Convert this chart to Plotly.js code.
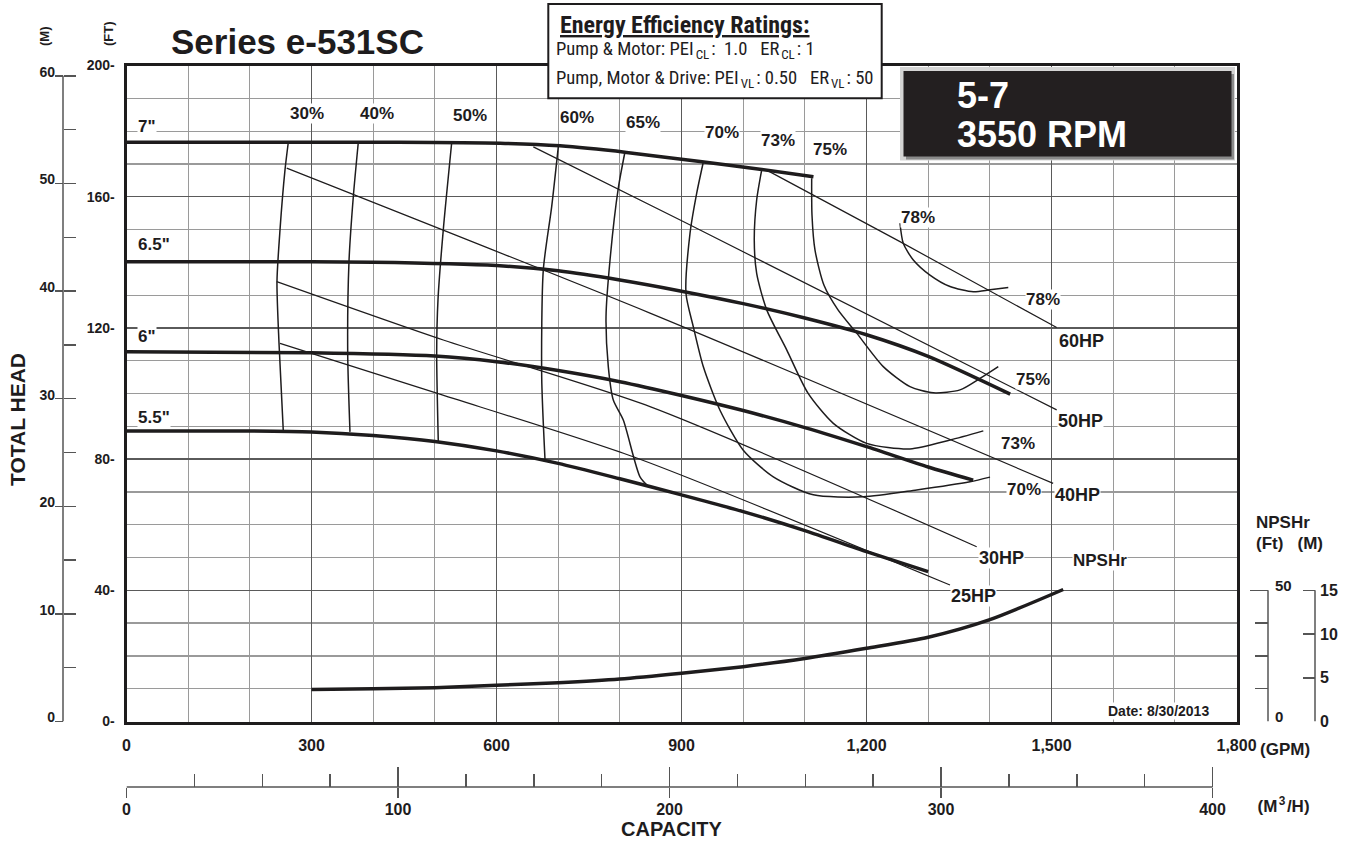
<!DOCTYPE html>
<html><head><meta charset="utf-8">
<script src="https://cdn.plot.ly/plotly-3.0.1.min.js"></script>
<style>html,body{margin:0;padding:0;background:#fff;}#chart{width:1355px;height:843px;}</style>
</head><body><div id="chart"></div>
<script>
// ---------------- data ----------------
const gpmTickVals = [0, 300, 600, 900, 1200, 1500, 1800];
const gpmTickText = ['0', '300', '600', '900', '1,200', '1,500', '1,800'];
const gpmGrid = [100, 200, 400, 500, 700, 800, 1000, 1100, 1300, 1400, 1600, 1700];
const ftTickVals = [0, 40, 80, 120, 160, 200];
const ftTickText = ['0-', '40-', '80-', '120-', '160-', '200-'];
const ftGrid = [10, 20, 30, 50, 60, 70, 90, 100, 110, 130, 140, 150, 170, 180, 190];
const mTickVals = [0, 10, 20, 30, 40, 50, 60];
const mMinor = [5, 15, 25, 35, 45, 55];
const m3hTickVals = [0, 100, 200, 300, 400];
const m3hMinor = [25, 50, 75, 125, 150, 175, 225, 250, 275, 325, 350, 375];
const npshFtTickVals = [0, 50];
const npshFtMinor = [12.5, 25, 37.5];
const npshMTickVals = [0, 5, 10, 15];

// impeller head curves (GPM, ft)
const impellerNames = ['7"', '6.5"', '6"', '5.5"'];
const q7 = [0, 440, 606, 703, 811, 930, 1027, 1114];
const h7 = [176.6, 176.6, 176.3, 175.5, 173.5, 170.7, 168.4, 166.1];
const q65 = [0, 200, 400, 600, 700, 800, 900, 1000, 1100, 1200, 1300, 1433];
const h65 = [140.2, 140.2, 140.0, 139.0, 137.4, 134.6, 131.2, 127.4, 123.0, 117.9, 111.3, 99.8];
const q6 = [0, 300, 500, 600, 700, 800, 900, 1000, 1100, 1200, 1300, 1373];
const h6 = [112.7, 112.4, 111.4, 109.7, 107.0, 103.6, 99.4, 94.8, 89.6, 83.8, 77.6, 73.6];
const q55 = [0, 200, 300, 400, 500, 600, 700, 800, 900, 1000, 1100, 1200, 1300];
const h55 = [88.6, 88.6, 88.3, 87.2, 85.4, 82.5, 78.7, 74.0, 69.1, 64.0, 58.2, 51.8, 45.7];

// efficiency curves
const effNames = ['30%', '40%', '50%', '60%', '65%', '70%', '73%', '75%', '78%'];
const e30q = [262.4, 257.0, 248.9, 244.0, 247.3, 254.3];
const e30h = [176.6, 168.1, 149.8, 134.0, 115.4, 88.4];
const e40q = [375.9, 367.8, 360.8, 358.7, 362.4];
const e40h = [176.6, 160.0, 140.2, 112.3, 88.3];
const e50q = [527.4, 513.7, 505.1, 503.0, 505.6];
const e50h = [176.6, 149.9, 128.5, 112.3, 85.3];
const e60q = [700.2, 689.5, 675.9, 673.3, 678.7];
const e60h = [175.2, 157.0, 137.7, 105.1, 79.7];
const e65q = [808.4, 797.5, 784.1, 777.6, 781.3, 789.4, 805.6, 832.7, 847.3];
const e65h = [173.7, 162.6, 140.7, 123.4, 108.2, 98.0, 91.9, 74.6, 71.5];
const e70q = [935.3, 924.6, 913.8, 907.3, 919.1, 935.3, 962.4, 1000.2, 1048.9, 1113.7, 1194.8, 1281.4, 1367.8, 1400.3];
const e70h = [170.5, 161.0, 148.8, 130.5, 120.4, 108.2, 94.9, 82.7, 74.6, 69.1, 68.5, 70.6, 73.1, 74.5];
const e73q = [1030.0, 1021.9, 1018.0, 1021.9, 1038.2, 1070.6, 1105.1, 1146.2, 1200.3, 1270.5, 1335.4, 1389.4];
const e73h = [168.1, 159.0, 146.8, 136.6, 125.5, 113.3, 100.1, 90.9, 84.8, 83.1, 85.8, 88.6];
const e75q = [1111.1, 1111.6, 1116.5, 1131.1, 1153.8, 1184.1, 1227.2, 1270.5, 1308.3, 1351.6, 1384.0, 1413.7];
const e75h = [165.6, 154.4, 143.7, 133.0, 125.5, 118.4, 108.2, 102.1, 100.2, 101.1, 104.6, 108.2];
const e78q = [1254.3, 1259.6, 1275.9, 1302.9, 1335.4, 1373.2, 1400.3, 1429.9];
const e78h = [151.9, 145.8, 140.7, 136.1, 132.6, 131.0, 131.6, 132.3];

// horsepower lines
const hpNames = ['60HP', '50HP', '40HP', '30HP', '25HP'];
const hp60q = [1038.2, 1254.3, 1508.4];
const hp60h = [168.1, 146.3, 120.1];
const hp50q = [659.7, 908.4, 1508.4];
const hp50h = [175.2, 151.9, 95.0];
const hp40q = [259.8, 848.9, 1502.7];
const hp40h = [168.7, 124.5, 72.6];
const hp30q = [243.6, 513.7, 848.9, 1378.7];
const hp30h = [134.1, 116.3, 96.0, 53.3];
const hp25q = [248.9, 503.0, 821.8, 1335.4];
const hp25h = [115.3, 100.1, 80.7, 41.6];

// NPSHr curve (GPM, ft)
const npshQ = [300, 400, 500, 600, 700, 800, 900, 1000, 1100, 1200, 1300, 1400, 1519];
const npshFt = [12.2, 12.5, 12.9, 13.8, 14.8, 16.2, 18.4, 20.9, 24.0, 27.9, 32.1, 38.8, 50.3];

// ---------------- layout helpers ----------------
const W = 1355, H = 843, ML = 30, MR = 15, MT = 65, MB = 30;
const PW = W - ML - MR, PH = H - MT - MB;
const fx = p => (p - ML) / PW;
const fy = p => (H - MB - p) / PH;
const INK = '#1e1c1d';
const FONT = 'Liberation Sans, Arial, Helvetica, sans-serif';
const NARROW = "'Liberation Sans Narrow', 'Roboto Condensed', Roboto, sans-serif";
const FT_PER_M = 3.28084, GPM_PER_M3H = 4.40287;

function curve(q, h, w, yaxis) {
  return {type: 'scatter', mode: 'lines', x: q, y: h, yaxis: yaxis || 'y',
    line: {color: INK, width: w, shape: 'spline', smoothing: 0.7},
    hoverinfo: 'skip', showlegend: false, cliponaxis: false};
}

const traces = [
  curve(e30q, e30h, 1.5), curve(e40q, e40h, 1.5), curve(e50q, e50h, 1.5),
  curve(e60q, e60h, 1.5), curve(e65q, e65h, 1.5), curve(e70q, e70h, 1.5),
  curve(e73q, e73h, 1.5), curve(e75q, e75h, 1.5), curve(e78q, e78h, 1.5),
  curve(hp60q, hp60h, 1.2), curve(hp50q, hp50h, 1.2), curve(hp40q, hp40h, 1.2),
  curve(hp30q, hp30h, 1.2), curve(hp25q, hp25h, 1.2),
  curve(q7, h7, 3.5), curve(q65, h65, 3.5), curve(q6, h6, 3.5), curve(q55, h55, 3.5),
  curve(npshQ, npshFt, 3.5, 'y3')
];

function lab(text, x, y, size, opts) {
  return Object.assign({text: text, xref: 'paper', yref: 'paper', x: fx(x), y: fy(y),
    xanchor: 'center', yanchor: 'middle', showarrow: false,
    font: {family: FONT, size: size, color: INK, weight: 'bold'},
    bgcolor: 'rgba(255,255,255,1)', borderpad: 0}, opts || {});
}
const clear = 'rgba(0,0,0,0)';

const effPos = [[306.7, 113.3], [376.7, 113.3], [470, 115.7], [576.7, 117.3], [643, 122.7],
  [721.7, 132.7], [778, 140.7], [830, 149.3], [917.5, 217.3]];
const effRightPos = {'78%': [1043, 299.3], '75%': [1033, 379], '73%': [1018, 443.3], '70%': [1024, 490]};
const hpPos = [[1081.7, 340.7], [1080, 420.7], [1077, 495], [1001.7, 558.3], [973.3, 596]];
const impPos = [[137, 126.7], [137, 245], [137, 336.7], [137, 417.3]];

const annotations = [];
effNames.forEach((n, i) => annotations.push(lab(n, effPos[i][0], effPos[i][1], 17)));
Object.keys(effRightPos).forEach(n => annotations.push(lab(n, effRightPos[n][0], effRightPos[n][1], 17)));
hpNames.forEach((n, i) => annotations.push(lab(n, hpPos[i][0], hpPos[i][1], 18)));
impellerNames.forEach((n, i) => annotations.push(lab(n, impPos[i][0], impPos[i][1], 17, {xanchor: 'left'})));
annotations.push(lab('NPSHr', 1100, 560.7, 17));
annotations.push(lab('Date: 8/30/2013', 1210, 711, 14, {xanchor: 'right'}));
annotations.push(lab('Series e-531SC', 297.5, 41, 35, {bgcolor: clear}));
annotations.push(lab('(M)', 45, 36, 13, {textangle: -90, bgcolor: clear}));
annotations.push(lab('(FT)', 109, 34, 13, {textangle: -90, bgcolor: clear}));
annotations.push(lab('TOTAL HEAD', 17, 420, 21, {textangle: -90, bgcolor: clear}));
annotations.push(lab('CAPACITY', 671, 829, 20, {bgcolor: clear}));
annotations.push(lab('(GPM)', 1285, 749, 17, {bgcolor: clear}));
annotations.push(lab('(M<sup>3</sup>/H)', 1283, 805, 17, {bgcolor: clear}));
annotations.push(lab('NPSHr', 1283, 522, 17, {bgcolor: clear}));
annotations.push(lab('(Ft)\u00a0\u00a0\u00a0(M)', 1289, 543, 17, {bgcolor: clear}));
// black RPM box
const white = {family: FONT, size: 36, color: '#ffffff', weight: 'bold'};
annotations.push(lab('5-7', 955.7, 95, 36, {xanchor: 'left', bgcolor: clear, font: white}));
annotations.push(lab('3550 RPM', 955.7, 134, 36, {xanchor: 'left', bgcolor: clear, font: white}));
// energy efficiency box
annotations.push(lab('<span style="text-decoration:underline">Energy Efficiency Ratings:</span>', 559, 25, 24,
  {xanchor: 'left', bgcolor: clear, font: {family: NARROW, size: 24, color: INK, weight: 'bold'}}));
annotations.push(lab('Pump &amp; Motor: PEI<sub>CL</sub>:\u00a0 1.0 \u00a0 ER<sub>CL</sub>: 1', 559, 50, 18.6,
  {xanchor: 'left', bgcolor: clear, font: {family: NARROW, size: 18.6, color: INK, weight: 'normal'}}));
annotations.push(lab('Pump, Motor &amp; Drive: PEI<sub>VL</sub>: 0.50 \u00a0 ER<sub>VL</sub>: 50', 559, 79, 18.6,
  {xanchor: 'left', bgcolor: clear, font: {family: NARROW, size: 18.6, color: INK, weight: 'normal'}}));

const shapes = [
  {type: 'rect', xref: 'paper', yref: 'paper', x0: fx(548.3), x1: fx(881.7), y0: fy(4), y1: fy(98.3),
    fillcolor: '#ffffff', line: {color: INK, width: 2}, layer: 'above'},
  {type: 'rect', xref: 'paper', yref: 'paper', x0: fx(900), x1: fx(1235), y0: fy(67), y1: fy(160.5),
    fillcolor: '#d4d4d4', line: {width: 0}, layer: 'above'},
  {type: 'rect', xref: 'paper', yref: 'paper', x0: fx(906), x1: fx(1234), y0: fy(74), y1: fy(159.5),
    fillcolor: '#8a8a8a', line: {width: 0}, layer: 'above'},
  {type: 'rect', xref: 'paper', yref: 'paper', x0: fx(903.5), x1: fx(1231.5), y0: fy(71), y1: fy(156.5),
    fillcolor: '#231f20', line: {width: 0}, layer: 'above'},
  // secondary axis lines
  {type: 'line', xref: 'paper', yref: 'y2', x0: fx(63), x1: fx(63), y0: 0, y1: 60, line: {color: '#555', width: 1.5}},
  {type: 'line', xref: 'paper', yref: 'y3', x0: fx(1268), x1: fx(1268), y0: 0, y1: 50, line: {color: '#555', width: 1.5}},
  {type: 'line', xref: 'paper', yref: 'y4', x0: fx(1315), x1: fx(1315), y0: 0, y1: 15, line: {color: '#555', width: 1.5}},
  {type: 'line', xref: 'x2', yref: 'paper', x0: 0, x1: 400, y0: fy(787), y1: fy(787), line: {color: '#555', width: 1.5}}
];

const boldTick = (s) => ({family: FONT, size: s, color: INK, weight: 'bold'});
const freeY = {overlaying: 'y', anchor: 'free', showgrid: false, zeroline: false, showline: false, tickmode: 'array'};
const freeX = {overlaying: 'x', anchor: 'free', showgrid: false, zeroline: false, showline: false, tickmode: 'array'};

const layout = {
  width: W, height: H, autosize: false,
  margin: {l: ML, r: MR, t: MT, b: MB, pad: 0},
  paper_bgcolor: '#ffffff', plot_bgcolor: '#ffffff',
  showlegend: false, hovermode: false,
  font: {family: FONT, color: INK},
  xaxis: {domain: [fx(126.5), fx(1236.5)], range: [0, 1800], tickmode: 'array',
    tickvals: gpmTickVals, ticktext: gpmTickText, tickfont: boldTick(16), ticks: '',
    ticklabelstandoff: 7, showline: true, linecolor: INK, linewidth: 3, mirror: true,
    showgrid: true, gridcolor: '#5a5a5a', gridwidth: 1.3, zeroline: false,
    minor: {tickmode: 'array', tickvals: gpmGrid, showgrid: true, gridcolor: '#9a9a9a', gridwidth: 1.2, ticks: ''}},
  yaxis: {domain: [fy(721.5), fy(65.5)], range: [0, 200], tickmode: 'array',
    tickvals: ftTickVals, ticktext: ftTickText, tickfont: boldTick(14), ticks: '',
    ticklabelstandoff: 6, showline: true, linecolor: INK, linewidth: 3, mirror: true,
    showgrid: true, gridcolor: '#5a5a5a', gridwidth: 1.3, zeroline: false,
    minor: {tickmode: 'array', tickvals: ftGrid, showgrid: true, gridcolor: '#9a9a9a', gridwidth: 1.2, ticks: ''}},
  yaxis2: Object.assign({}, freeY, {position: fx(63), side: 'left', range: [0, 200 / FT_PER_M],
    tickvals: mTickVals, ticks: 'inside', ticklen: 12, tickwidth: 1.5, tickcolor: '#555',
    tickfont: boldTick(14), ticklabelstandoff: 8, ticklabelshift: -4,
    minor: {tickmode: 'array', tickvals: mMinor, ticks: 'inside', ticklen: 12, tickwidth: 1.5, tickcolor: '#555'}}),
  yaxis5: Object.assign({}, freeY, {position: fx(63), side: 'left', range: [0, 200 / FT_PER_M],
    tickvals: mTickVals, ticks: 'outside', ticklen: 8, tickwidth: 1.5, tickcolor: '#555', showticklabels: false}),
  yaxis3: Object.assign({}, freeY, {position: fx(1268), side: 'right', range: [0, 250],
    tickvals: npshFtTickVals, ticks: 'inside', ticklen: 18, tickwidth: 1.5,
    tickcolor: '#555', tickfont: boldTick(15), ticklabelstandoff: 6, ticklabelshift: -5,
    minor: {tickmode: 'array', tickvals: npshFtMinor, ticks: 'inside', ticklen: 13, tickwidth: 1.5, tickcolor: '#555'}}),
  yaxis4: Object.assign({}, freeY, {position: fx(1315), side: 'right', range: [0, 75],
    tickvals: npshMTickVals, ticks: 'inside', ticklen: 12, tickwidth: 1.5,
    tickcolor: '#555', tickfont: boldTick(16), ticklabelstandoff: 4}),
  xaxis2: Object.assign({}, freeX, {position: fy(787), side: 'bottom', range: [0, 1800 / GPM_PER_M3H],
    tickvals: m3hTickVals, ticks: 'inside', ticklen: 20, tickwidth: 1.5, tickcolor: '#555',
    tickfont: boldTick(16), ticklabelstandoff: 11,
    minor: {tickmode: 'array', tickvals: m3hMinor, ticks: 'inside', ticklen: 13, tickwidth: 1.5, tickcolor: '#555'}}),
  xaxis3: Object.assign({}, freeX, {position: fy(787), side: 'bottom', range: [0, 1800 / GPM_PER_M3H],
    tickvals: m3hTickVals, ticks: 'outside', ticklen: 10, tickwidth: 1.5, tickcolor: '#555', showticklabels: false}),
  annotations: annotations,
  shapes: shapes
};

// invisible traces so every secondary axis is registered
[['x', 'y2'], ['x', 'y5'], ['x', 'y4'], ['x2', 'y'], ['x3', 'y']].forEach(p => {
  traces.push({type: 'scatter', mode: 'lines', x: [null], y: [null], xaxis: p[0], yaxis: p[1],
    hoverinfo: 'skip', showlegend: false, line: {width: 0}});
});

Plotly.newPlot('chart', traces, layout, {staticPlot: true, displayModeBar: false}).then(gd => {
  // drop empty placeholder text nodes (untitled axes) that draw nothing
  gd.querySelectorAll('text').forEach(t => { if (!t.textContent.trim()) t.remove(); });
  // sub/superscript baseline resetters use zero-width spaces; give them a hair-space width
  const walker = document.createTreeWalker(gd, NodeFilter.SHOW_TEXT);
  let n;
  while ((n = walker.nextNode())) {
    if (n.nodeValue.indexOf('\u200b') >= 0) n.nodeValue = n.nodeValue.replace(/\u200b/g, '\u200a');
  }
});
</script>
</body></html>
